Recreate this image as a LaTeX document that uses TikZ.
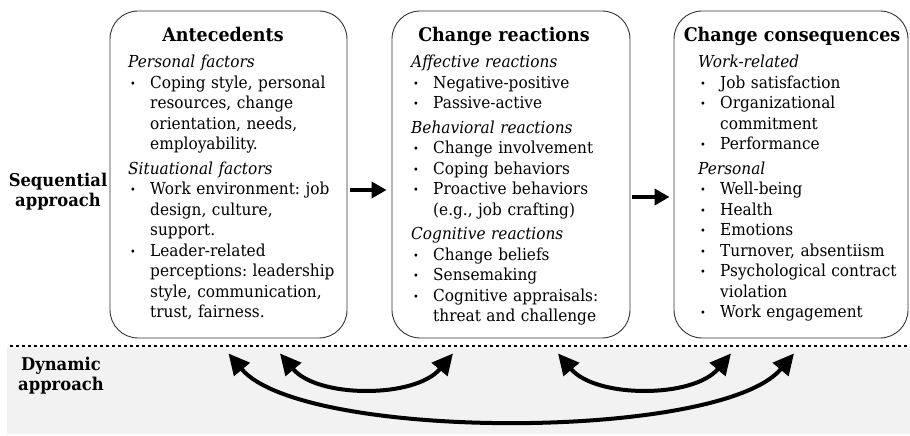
\documentclass[tikz,border=0pt]{standalone}
\usepackage{fontspec}
\setmainfont{DejaVu Serif}[FakeStretch=0.93]
\usetikzlibrary{arrows.meta}

% list helpers for the panel texts
\newcommand\firsthd[1]{\noindent\textit{#1}\par}
\newcommand\subhd[1]{\par\vspace{4pt}\noindent\textit{#1}\par}
\newcommand\bitem[1]{\par\hangindent=22pt\hangafter=1\noindent
  \makebox[22pt][l]{\hspace{2pt}\raisebox{1pt}{\fontsize{10.5}{10}\selectfont\textbullet}}#1\par}

\begin{document}
\frenchspacing
\begin{tikzpicture}[x=1pt,y=1pt,
  panel/.style={draw=black!80, line width=0.9pt, rounded corners=28pt, fill=white,
    minimum width=#1, minimum height=327pt, inner sep=0pt},
  title/.style={anchor=base, inner sep=0pt, font=\bfseries\fontsize{18.8}{20}\selectfont},
  body/.style={anchor=base west, inner sep=0pt, text width=230pt, align=left,
    font=\frenchspacing\fontsize{16.5}{20.5}\selectfont},
  sidelbl/.style={anchor=base, inner sep=0pt, text width=120pt, align=center,
    font=\bfseries\fontsize{17.6}{20}\selectfont},
  flow/.style={-{Triangle[length=15pt,width=16pt]}, line width=4pt},
  dyn/.style={{Triangle[length=21pt,width=20pt]}-{Triangle[length=21pt,width=20pt]}, line width=4pt},
  sep/.style={line width=2.7pt, dash pattern=on 2.7pt off 3.3pt}]

\useasboundingbox (0,0) rectangle (910,436);

% lower band for the dynamic approach
\fill[black!5] (7,2) rectangle (910,89);
\draw[sep] (10,90) -- (910,90);

% the three stages
\node[panel=237pt] (ant) at (228.5,261.5) {};
\node[panel=238pt] (react) at (511,261.5) {};
\node[panel=234pt] (cons) at (791,261.5) {};

\node[title] (antT) at (223,394) {Antecedents};
\node[title] (reactT) at (504,394) {Change reactions};
\node[title] (consT) at (792,394) {Change consequences};

\node[body] (antB) at (128,368) {%
\firsthd{Personal factors}%
\bitem{Coping style, personal\newline resources, change\newline orientation, needs,\newline employability.}%
\subhd{Situational factors}%
\bitem{Work environment: job\newline design, culture,\newline support.}%
\bitem{Leader-related\newline perceptions: leadership\newline style, communication,\newline trust, fairness.}};

\node[body] (reactB) at (411,368) {%
\firsthd{Affective reactions}%
\bitem{Negative-positive}%
\bitem{Passive-active}%
\subhd{Behavioral reactions}%
\bitem{Change involvement}%
\bitem{Coping behaviors}%
\bitem{Proactive behaviors\newline (e.g., job crafting)}%
\subhd{Cognitive reactions}%
\bitem{Change beliefs}%
\bitem{Sensemaking}%
\bitem{Cognitive appraisals:\newline threat and challenge}};

\node[body] (consB) at (698,368) {%
\firsthd{Work-related}%
\bitem{Job satisfaction}%
\bitem{Organizational\newline commitment}%
\bitem{Performance}%
\subhd{Personal}%
\bitem{Well-being}%
\bitem{Health}%
\bitem{Emotions}%
\bitem{Turnover, absentiism}%
\bitem{Psychological contract\newline violation}%
\bitem{Work engagement}};

% side labels
\node[sidelbl] (seq) at (58,249) {Sequential\\approach};
\node[sidelbl] (dynl) at (61,65) {Dynamic\\approach};

% sequential flow
\draw[flow, shorten <=3pt, shorten >=5pt] ([yshift=-15.5pt]ant.east) -- ([yshift=-15.5pt]react.west);
\draw[flow, shorten <=2pt, shorten >=4pt] ([yshift=-22.5pt]react.east) -- ([yshift=-22.5pt]cons.west);

% feedback loops
\coordinate (bigL) at ([yshift=-15pt]ant.south);
\coordinate (s1L) at ([xshift=51.5pt,yshift=-15pt]ant.south);
\coordinate (s1R) at ([xshift=-58pt,yshift=-15pt]react.south);
\coordinate (s2L) at ([xshift=47pt,yshift=-15pt]react.south);
\coordinate (s2R) at ([xshift=-60pt,yshift=-15pt]cons.south);
\coordinate (bigR) at ([xshift=3pt,yshift=-15pt]cons.south);

\draw[dyn] (s1L) to[out=-50,in=-130,looseness=0.87] (s1R);
\draw[dyn] (s2L) to[out=-50,in=-130,looseness=0.87] (s2R);
\draw[dyn] (bigL) to[out=-50,in=-130,looseness=0.52] (bigR);
\end{tikzpicture}
\end{document}
